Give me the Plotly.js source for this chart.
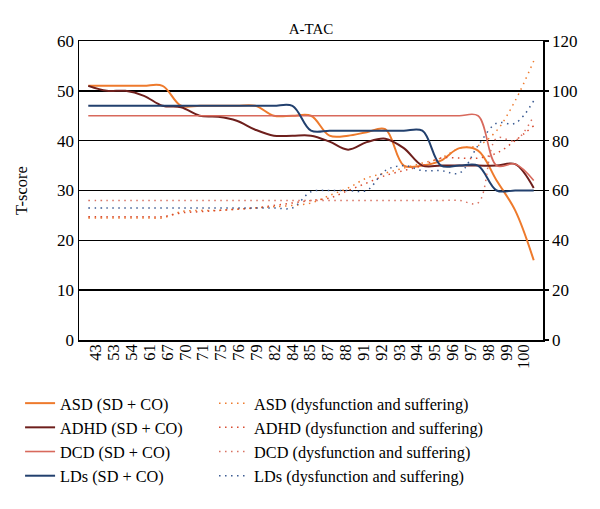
<!DOCTYPE html>
<html><head><meta charset="utf-8">
<script src="https://cdn.plot.ly/plotly-3.0.1.min.js"></script>
<style>html,body{margin:0;padding:0;background:#fff}#chart{width:600px;height:509px}</style>
</head><body><div id="chart"></div>
<script>
// Category (percentile) labels
const percentiles = ['43','53','54','61','67','70','71','75','76','79','82','84','85','87','88','91','92','93','94','95','96','97','98','99','100'];

// T-scores, SD + CO (left axis)
const asdSdCo  = [51,51,51,51,51,47,47,47,47,47,45,45,45,41,41,41.7,42.3,35,35,36,38.5,38,32,26,16];
const adhdSdCo = [51,50,50,49,47,46.7,45,44.8,44,42.2,41,41,41,39.8,38.2,39.7,40.4,38.5,35,35,35,35,35,35.3,30.5];
const dcdSdCo  = [45,45,45,45,45,45,45,45,45,45,45,45,45,45,45,45,45,45,45,45,45,45,35,35.3,32];
const ldsSdCo  = [47,47,47,47,47,47,47,47,47,47,47,47,42,42,42,42,42,42,42,35,35,35,30,30,30];

// Dysfunction and suffering (right axis)
const asdDys  = [49,49,49,49,49,51.5,52,52,52.5,53,53.5,54,55,58,61,65,67,69,71,73,77,78,84,96,112];
const adhdDys = [49.5,49.5,49.5,49.5,49.5,51,51.5,52,52.5,53,54,55,56,57,60,63,66,68,70,73,73,73,75,80,86];
const dcdDys  = [56,56,56,56,56,56,56,56,56,56,56,56,56,56,56,56,56,56,56,56,56,55,81,80,90];
const ldsDys  = [53,53,53,53,53,53,53,53,53,53,53,53,59.5,60,60,60,68,70,68,68,67,78,87,87,96];

const seriesNames = ['ASD','ADHD','DCD','LDs'];
const solidColors = ['#EE7A2C','#6E1F1C','#D8695C','#22406E'];
const dotColors   = ['#EE7A2C','#D84A2E','#D8705F','#3A5A92'];
const solidData = [asdSdCo, adhdSdCo, dcdSdCo, ldsSdCo];
const dysData   = [asdDys, adhdDys, dcdDys, ldsDys];

const traces = [];
solidData.forEach((ys, k) => {
  traces.push({
    x: percentiles, y: ys, type: 'scatter', mode: 'lines',
    name: seriesNames[k] + ' (SD + CO)',
    line: {color: solidColors[k], width: k === 2 ? 1.6 : 2, shape: 'spline', smoothing: 1},
    xaxis: 'x', yaxis: 'y', legend: 'legend', hoverinfo: 'skip'
  });
});
dysData.forEach((ys, k) => {
  traces.push({
    x: percentiles, y: ys, type: 'scatter', mode: 'lines',
    name: seriesNames[k] + ' (dysfunction and suffering)',
    line: {color: dotColors[k], width: 1.5, dash: '1.5px,4.5px', shape: 'spline', smoothing: 1},
    xaxis: 'x', yaxis: 'y2', legend: 'legend2', hoverinfo: 'skip'
  });
});
const idx = percentiles.map((_, i) => i);
traces.push({x: idx, y: idx.map(() => null), xaxis: 'x2', yaxis: 'y', mode: 'lines',
  showlegend: false, hoverinfo: 'skip'});

const serif = '"Liberation Serif", "DejaVu Serif", serif';
const layout = {
  width: 600, height: 509,
  margin: {l: 79, r: 57, t: 41, b: 169},
  paper_bgcolor: '#fff', plot_bgcolor: '#fff',
  font: {family: serif, color: '#000', size: 16},
  showlegend: true,
  title: {text: 'A-TAC', font: {family: serif, size: 15, color: '#000'},
          xref: 'paper', x: 0.5, xanchor: 'center', yref: 'container', y: 0.943, yanchor: 'middle'},
  xaxis: {type: 'category', range: [-0.5, 24.5], showticklabels: false, ticks: '',
          showgrid: false, zeroline: false, showline: true, linecolor: '#000', linewidth: 1.5, mirror: true},
  xaxis2: {overlaying: 'x', anchor: 'y', side: 'bottom', type: 'linear', range: [-0.953, 25.065],
           tickmode: 'array', tickvals: idx, ticktext: percentiles, tickangle: -90,
           showgrid: false, zeroline: false, showline: false, ticks: '',
           tickfont: {family: serif, size: 16.5, color: '#000'}},
  yaxis: {range: [0, 60], tick0: 0, dtick: 10, showgrid: true, gridcolor: '#000', gridwidth: 1.5,
          zeroline: false, showline: true, linecolor: '#000', linewidth: 1.5, ticks: '',
          tickfont: {family: serif, size: 17, color: '#000'},
          title: {text: 'T-score', font: {family: serif, size: 16.5, color: '#000'}, standoff: 25}},
  yaxis2: {overlaying: 'y', side: 'right', range: [0, 120], tick0: 0, dtick: 20, showgrid: false,
           zeroline: false, showline: true, linecolor: '#000', linewidth: 1.5,
           ticks: 'outside', ticklen: 4, tickcolor: '#000', tickwidth: 1.5,
           tickfont: {family: serif, size: 17, color: '#000'}},
  legend: {x: -0.127, xanchor: 'left', y: -0.154, yanchor: 'top', orientation: 'v',
           bgcolor: 'rgba(0,0,0,0)', font: {family: serif, size: 16.3, color: '#000'}, itemwidth: 30, tracegroupgap: 0},
  legend2: {x: 0.291, xanchor: 'left', y: -0.154, yanchor: 'top', orientation: 'v',
           bgcolor: 'rgba(0,0,0,0)', font: {family: serif, size: 16.3, color: '#000'}, itemwidth: 30, tracegroupgap: 0}
};
Plotly.newPlot('chart', traces, layout, {displayModeBar: false, staticPlot: true});
</script>
</body></html>
